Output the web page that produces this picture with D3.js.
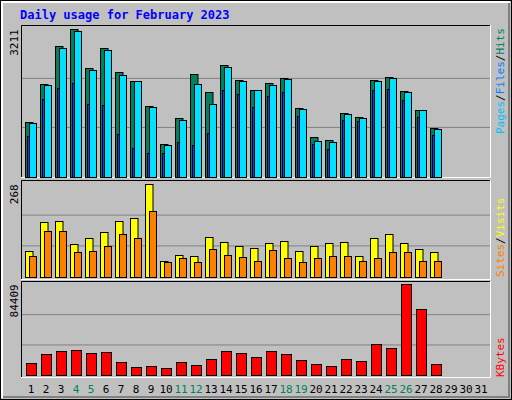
<!DOCTYPE html>
<html><head><meta charset="utf-8">
<script src="https://cdn.jsdelivr.net/npm/d3@7"></script>
<style>body{margin:0;background:#fff}svg{display:block}text{font-family:"DejaVu Sans Mono",monospace}</style>
</head><body><svg id="c" width="512" height="400"></svg>
<script>
const days = d3.range(1, 32);
const weekend = [4, 5, 11, 12, 18, 19, 25, 26];
const hits = [1195,2025,2855,3211,2374,2811,2287,2090,1544,714,1282,2243,1850,2440,2112,1894,2046,2156,1500,867,802,1391,1304,2112,2177,1872,1457,1064];
const files = [1173,2003,2811,3182,2330,2767,2221,2090,1522,692,1238,2025,1588,2396,2090,1894,2003,2134,1479,780,758,1369,1282,2090,2156,1850,1457,1042];
const pages = [889,1697,1937,2046,1588,1566,933,627,518,518,758,692,954,1894,1806,1522,1762,1850,1326,714,605,1238,1216,1894,1915,1675,1304,911];
const visits = [74,158,161,94,111,129,161,169,268,45,62,59,114,100,88,82,97,103,74,88,97,100,59,111,123,97,79,71];
const sites = [59,132,134,71,74,88,123,111,190,42,53,42,79,62,56,45,76,53,42,53,59,59,45,53,71,71,45,45];
const kbytes = [11131,19480,22262,23190,20407,21335,12059,7421,8348,6493,12059,9276,14842,22262,20407,16697,22262,19480,13914,10204,8348,14842,12986,28756,25045,84409,61222,10204];

const svg = d3.select('#c');
const W = 512, H = 400;

// background with bevel
svg.append('rect').attr('width', W).attr('height', H).attr('fill', '#c0c0c0');
svg.append('rect').attr('x', 0.5).attr('y', 0.5).attr('width', W - 1).attr('height', H - 1).attr('fill', 'none').attr('stroke', '#000');
svg.append('path').attr('d', `M2,${H-2}V2H${W-2}`).attr('stroke', '#fff').attr('stroke-width', 2).attr('fill', 'none');
svg.append('path').attr('d', `M3,${H-3}H${W-3}V3`).attr('stroke', '#808080').attr('stroke-width', 2).attr('fill', 'none');

svg.append('text').attr('x', 20).attr('y', 19).attr('fill', '#0000ff').attr('font-weight', 'bold')
  .attr('font-size', 12).text('Daily usage for February 2023');

const x = d3.scaleLinear().domain([1, 2]).range([25, 40]);
const px0 = 21, px1 = 491;

function panel(top, bottom, base, maxY, max) {
  svg.append('rect').attr('x', px0).attr('y', top).attr('width', px1 - px0).attr('height', bottom - top).attr('fill', '#c0c0c0');
  const y = d3.scaleLinear().domain([0, max]).range([base, maxY]);
  const h = base - maxY;
  [1 / 3, 2 / 3].forEach(f => {
    svg.append('line').attr('x1', px0).attr('x2', px1).attr('y1', base - h * f).attr('y2', base - h * f)
      .attr('stroke', '#808080');
  });
  svg.append('path').attr('d', `M${px0+0.5},${bottom}V${top+0.5}H${px1}`).attr('stroke', '#000').attr('fill', 'none');
  svg.append('path').attr('d', `M${px0},${bottom-0.5}H${px1-0.5}V${top}`).attr('stroke', '#fff').attr('fill', 'none');
  svg.append('text').attr('transform', `translate(18,${maxY}) rotate(-90)`).attr('text-anchor', 'end')
    .attr('font-size', 11).attr('fill', '#000').text(max);
  return y;
}

function bars(data, y, dx, w, color) {
  svg.append('g').selectAll('rect').data(data).join('rect')
    .attr('x', (d, i) => x(i + 1) + dx + 0.5)
    .attr('y', d => Math.round(y(d)) + 0.5)
    .attr('width', w)
    .attr('height', d => Math.round(y(0)) - Math.round(y(d)))
    .attr('fill', color).attr('stroke', '#000');
}

const y1 = panel(25, 178, 176.5, 29.3, 3211);
bars(hits, y1, 0, 7.5, '#00805c');
bars(pages, y1, 2, 2.5, '#0040ff');
bars(files, y1, 4, 7, '#00e0ff');

const y2 = panel(180, 280, 276.7, 184.3, 268);
bars(visits, y2, 0, 7.5, '#ffff00');
bars(sites, y2, 4, 7, '#ff8000');

const y3 = panel(281, 378, 375.3, 284.3, 84409);
bars(kbytes, y3, 1, 10, '#ff0000');

// day labels
svg.append('g').selectAll('text').data(days).join('text')
  .attr('x', d => x(d) + 6).attr('y', 393).attr('text-anchor', 'middle').attr('font-size', 11)
  .attr('fill', d => weekend.includes(d) ? '#00805c' : '#000').text(d => d);

// right side legends
function legend(parts, yPos, anchor) {
  const t = svg.append('text').attr('transform', `translate(504,${yPos}) rotate(-90)`)
    .attr('text-anchor', anchor).attr('font-size', 11);
  parts.forEach(([s, c]) => t.append('tspan').attr('fill', c).text(s));
}
legend([['Pages', '#00c0ff'], ['/', '#000'], ['Files', '#0080ff'], ['/', '#000'], ['Hits', '#00805c']], 28, 'end');
legend([['Sites', '#ff8000'], ['/', '#000'], ['Visits', '#ffff00']], 277, 'start');
legend([['KBytes', '#ff0000']], 377, 'start');
</script></body></html>
